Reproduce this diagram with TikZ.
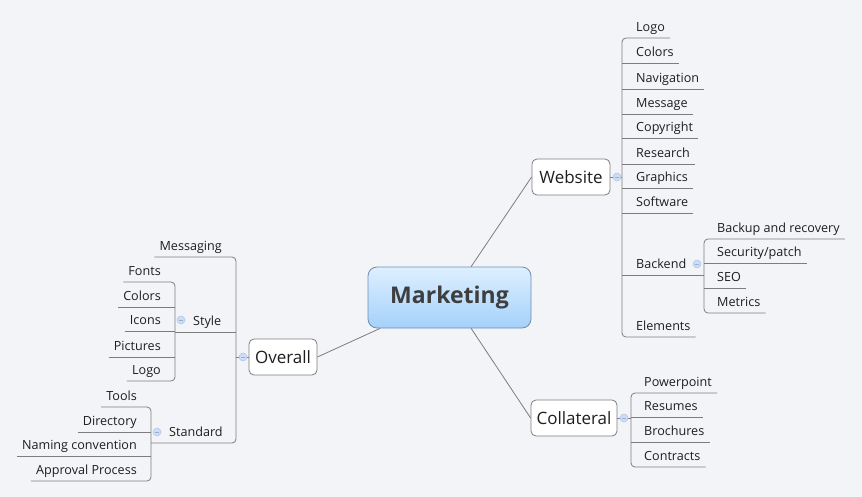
\documentclass[tikz,border=0pt]{standalone}
\usepackage{fontspec}
\setmainfont{Open Sans}
\definecolor{bg}{RGB}{243,244,248}
\definecolor{ln}{RGB}{125,125,125}
\definecolor{tx}{RGB}{30,30,30}
\definecolor{cfill}{RGB}{204,221,244}
\definecolor{cedge}{RGB}{172,196,232}
\definecolor{cminus}{RGB}{150,176,218}
\definecolor{ctop}{RGB}{222,239,255}
\definecolor{cbot}{RGB}{164,209,250}
\definecolor{cborder}{RGB}{110,140,180}
\tikzset{
  conn/.style={draw=ln, line width=0.8pt},
  lbl/.style={font=\fontsize{12.6}{14}\selectfont, text=tx, inner xsep=5pt, inner ysep=3.5pt, text height=9pt, text depth=3pt},
  topic/.style={draw=ln, fill=white, rounded corners=5pt, minimum height=36pt, inner sep=0pt, font=\fontsize{17}{19}\selectfont, text=tx, line width=0.8pt},
  central/.style={draw=cborder, top color=ctop, bottom color=cbot, rounded corners=9pt, minimum width=163pt, minimum height=61pt, inner sep=0pt, font=\fontsize{23}{26}\selectfont\bfseries, text={rgb,255:red,62;green,62;blue,62}, line width=0.8pt},
  collapse/.style={circle, draw=cedge, fill=cfill, minimum size=8pt, inner sep=0pt, line width=0.5pt,
    path picture={\draw[cminus, line width=0.8pt] ([xshift=-2pt]path picture bounding box.center) -- ([xshift=2pt]path picture bounding box.center);}}
}
\begin{document}
\begin{tikzpicture}[x=1pt,y=-1pt]
\fill[bg] (0,0) rectangle (862,497);
\useasboundingbox (0,0) rectangle (862,497);

% central and topics
\node[central] (mk) at (449.5,297.5) {Marketing};
\node[topic, minimum width=78pt] (web) at (571,177) {Website};
\node[topic, minimum width=86pt] (col) at (574,418) {Collateral};
\node[topic, minimum width=68pt] (ovr) at (283,357) {Overall};

\draw[conn] (mk.55) -- (web.west);
\draw[conn] (mk.-55) -- (col.west);
\draw[conn] (mk.204) -- (ovr.east);

% spines
\coordinate (wsp) at (622,0);
\coordinate (bsp) at (704,0);
\coordinate (csp) at (631,0);
\coordinate (osp) at (236,0);
\coordinate (stsp) at (175,0);
\coordinate (ssp) at (151,0);

% Website children
\node[lbl, anchor=south west] (wlogo) at (631,38) {Logo};
\node[lbl, anchor=south west] (wcolors) at (631,63) {Colors};
\node[lbl, anchor=south west] (wnav) at (631,89) {Navigation};
\node[lbl, anchor=south west] (wmsg) at (631,114) {Message};
\node[lbl, anchor=south west] (wcopy) at (631,138) {Copyright};
\node[lbl, anchor=south west] (wres) at (631,164) {Research};
\node[lbl, anchor=south west] (wgra) at (631,188) {Graphics};
\node[lbl, anchor=south west] (wsoft) at (631,213) {Software};
\node[lbl, anchor=south west] (wback) at (631,275) {Backend};
\node[lbl, anchor=south west] (welem) at (631,337) {Elements};

\draw[conn, rounded corners=4pt] (wlogo.south east) -- (wlogo.south -| wsp) -- (welem.south -| wsp) -- (welem.south east);
\foreach \n in {wcolors,wnav,wmsg,wcopy,wres,wgra,wsoft}
  \draw[conn] (\n.south east) -- (\n.south -| wsp);
\draw[conn] (wback.south -| wsp) -- (wback.south -| bsp);
\draw[conn] (web.east) -- (web.east -| wsp);

% Backend children
\node[lbl, anchor=south west] (bback) at (712,239) {Backup and recovery};
\node[lbl, anchor=south west] (bsec) at (712,263) {Security/patch};
\node[lbl, anchor=south west] (bseo) at (712,288) {SEO};
\node[lbl, anchor=south west] (bmet) at (712,313) {Metrics};
\draw[conn, rounded corners=4pt] (bback.south east) -- (bback.south -| bsp) -- (bmet.south -| bsp) -- (bmet.south east);
\foreach \n in {bsec,bseo}
  \draw[conn] (\n.south east) -- (\n.south -| bsp);

% Collateral children
\node[lbl, anchor=south west] (cpp) at (639,393) {Powerpoint};
\node[lbl, anchor=south west] (cres) at (639,417) {Resumes};
\node[lbl, anchor=south west] (cbro) at (639,442) {Brochures};
\node[lbl, anchor=south west] (ccon) at (639,467) {Contracts};
\draw[conn, rounded corners=4pt] (cpp.south east) -- (cpp.south -| csp) -- (ccon.south -| csp) -- (ccon.south east);
\foreach \n in {cres,cbro}
  \draw[conn] (\n.south east) -- (\n.south -| csp);
\draw[conn] (col.east) -- (col.east -| csp);

% Overall children
\node[lbl, anchor=south east] (omsg) at (227,257) {Messaging};
\node[lbl, anchor=south west] (ostyle) at (188,332) {Style};
\node[lbl, anchor=south west] (ostd) at (164,443) {Standard};
\draw[conn, rounded corners=4pt] (omsg.south west) -- (omsg.south -| osp) -- (ostd.south -| osp) -- (ostd.south -| ssp);
\draw[conn] (ostyle.south -| osp) -- (ostyle.south -| stsp);
\draw[conn] (ovr.west) -- (ovr.west -| osp);

% Style children
\node[lbl, anchor=south east] (sfonts) at (166,282) {Fonts};
\node[lbl, anchor=south east] (scolors) at (166,307) {Colors};
\node[lbl, anchor=south east] (sicons) at (166,331) {Icons};
\node[lbl, anchor=south east] (spics) at (166,357) {Pictures};
\node[lbl, anchor=south east] (slogo) at (166,381) {Logo};
\draw[conn, rounded corners=4pt] (sfonts.south west) -- (sfonts.south -| stsp) -- (slogo.south -| stsp) -- (slogo.south west);
\foreach \n in {scolors,sicons,spics}
  \draw[conn] (\n.south west) -- (\n.south -| stsp);

% Standard children
\node[lbl, anchor=south east] (ttools) at (142,407) {Tools};
\node[lbl, anchor=south east] (tdir) at (142,432) {Directory};
\node[lbl, anchor=south east] (tname) at (142,456) {Naming convention};
\node[lbl, anchor=south east] (tappr) at (142,481) {Approval Process};
\draw[conn, rounded corners=4pt] (ttools.south west) -- (ttools.south -| ssp) -- (tappr.south -| ssp) -- (tappr.south west);
\foreach \n in {tdir,tname}
  \draw[conn] (\n.south west) -- (\n.south -| ssp);

% collapse markers
\node[collapse] (kweb) at (617,177) {};
\node[collapse] (kback) at (697,264) {};
\node[collapse] (kcol) at (624,418) {};
\node[collapse] (kovr) at (243,357) {};
\node[collapse] (kstyle) at (181,320) {};
\node[collapse] (kstd) at (157,432) {};
\end{tikzpicture}
\end{document}
